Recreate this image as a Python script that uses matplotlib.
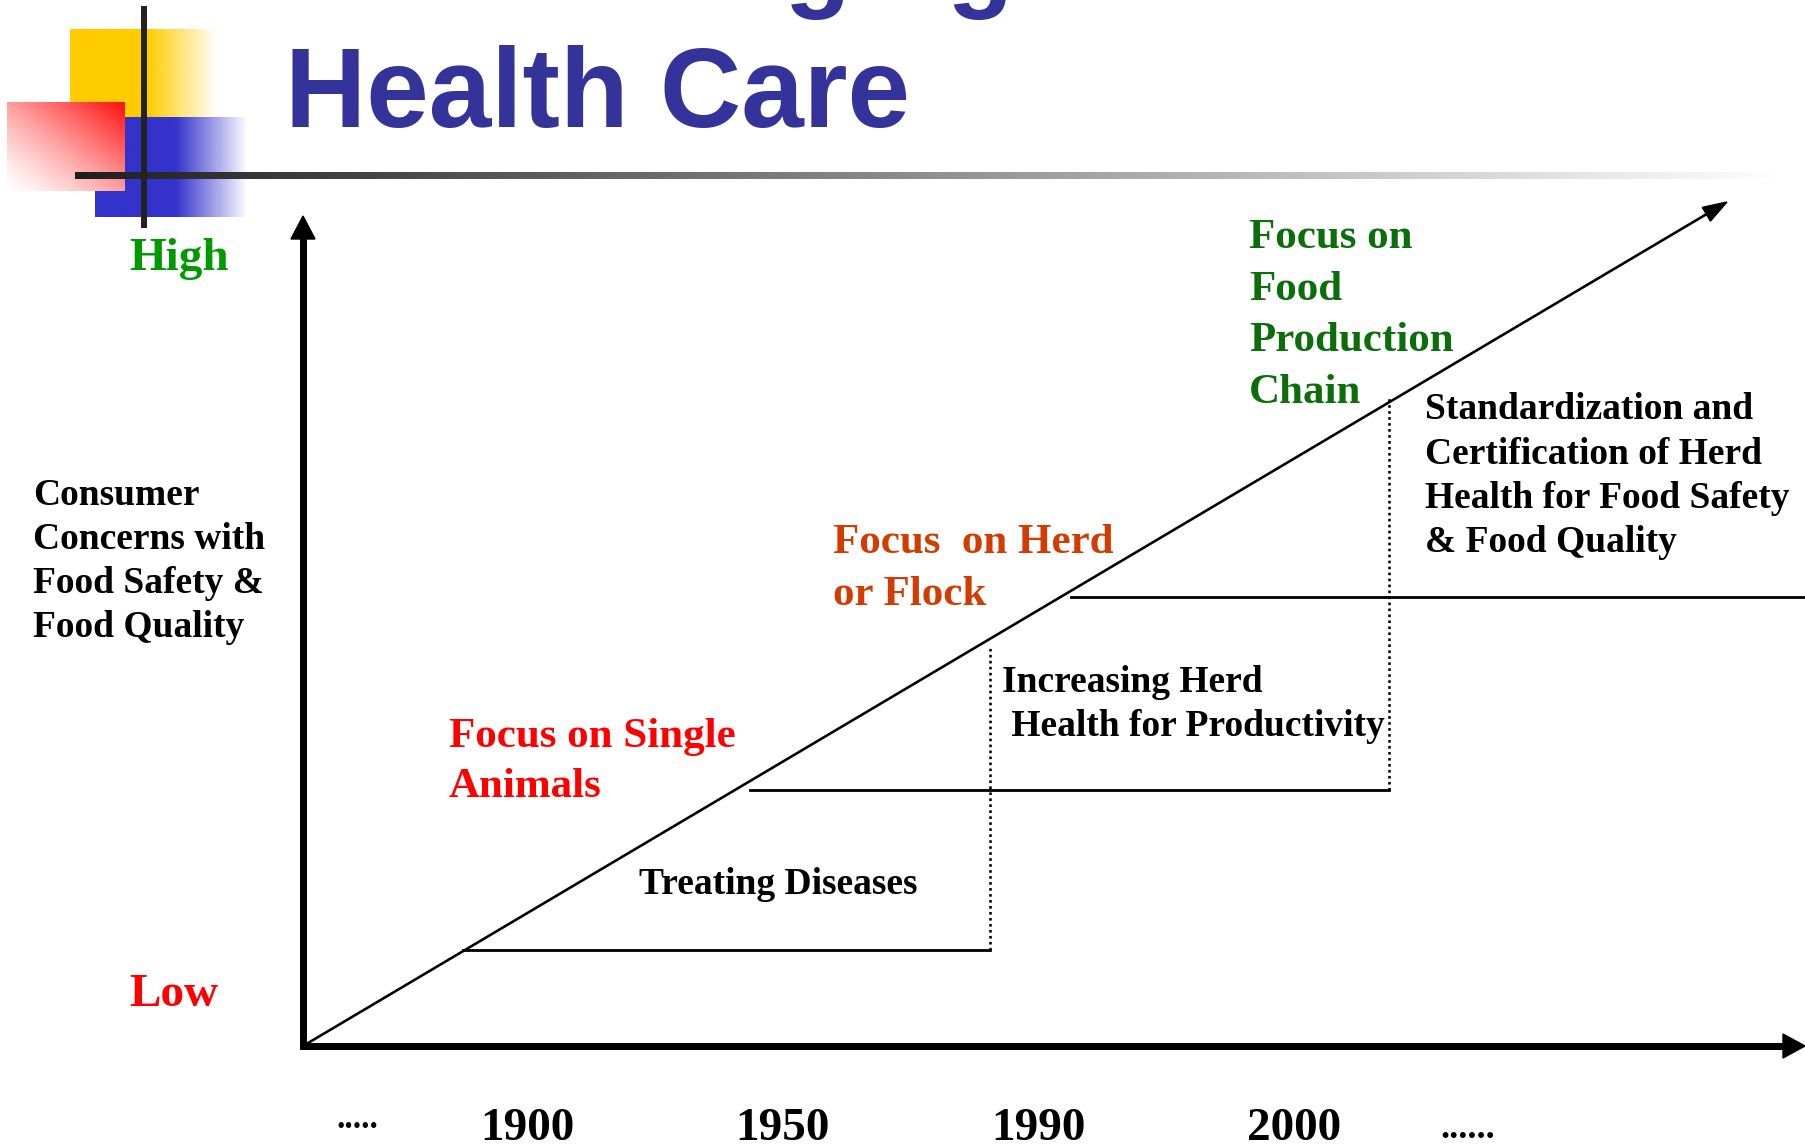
import matplotlib.pyplot as plt
import numpy as np

# slide content (coordinates are slide pixels, y grows downwards)
title = "Health Care"
title_above = "The Changing"          # only its descenders show at the top edge
y_axis_label = ["Consumer", "Concerns with", "Food Safety &", "Food Quality"]
level_high = "High"
level_low = "Low"

years = ["1900", "1950", "1990", "2000"]
focus_labels = [
    ["Focus on Single", "Animals"],
    ["Focus  on Herd", "or Flock"],
    ["Focus on", "Food", "Production", "Chain"],
]
phase_labels = [
    ["Treating Diseases"],
    ["Increasing Herd", " Health for Productivity"],
    ["Standardization and", "Certification of Herd", "Health for Food Safety", "& Food Quality"],
]

# stair steps under the diagonal
step_level = [950, 790, 597]
step_start = [463, 750, 1071]
step_end = [990, 1389, 1805]
riser_x = [990, 1389]
riser_top = [647, 397]

origin = (303, 1046)
trend_tip = (1727, 202)

W, H = 1805, 1148
fig = plt.figure(figsize=(W / 100, H / 100), dpi=100)
ax = fig.add_axes([0, 0, 1, 1])
ax.set_xlim(0, W)
ax.set_ylim(H, 0)
ax.axis("off")


def px(v):
    return v * 0.72


def grad_img(x0, x1, y0, y1, rgba):
    ax.imshow(rgba, extent=(x0, x1, y1, y0), origin="upper", aspect="auto",
              interpolation="bilinear", zorder=1)


# ---- top-left decoration ----
n = 200
u = np.linspace(0, 1, n)
yel = np.ones((2, n, 4))
yel[..., :3] = np.array([1.0, 0.8, 0.0])
yel[..., 3] = np.clip(1 - (u * (218 - 70) - (148 - 70)) / 70, 0, 1)
grad_img(70, 218, 29, 117, yel)

blu = np.ones((2, n, 4))
blu[..., :3] = np.array([0.2, 0.2, 0.8])
blu[..., 3] = np.clip(1 - (u * (248 - 95) - (176 - 95)) / 72, 0, 1)
grad_img(95, 248, 117, 217, blu)

uu, vv = np.meshgrid(u, u)
a = np.clip((uu + (1 - vv)) / 2, 0, 1) ** 1.3
red = np.ones((n, n, 4))
red[..., 0] = 1.0
red[..., 1] = 1 - a * 0.95
red[..., 2] = 1 - a * 0.95
grad_img(7, 125, 102, 191, red)

g = np.linspace(0.12, 1.0, 400)
bar = np.ones((2, 400, 4))
bar[..., 0] = g
bar[..., 1] = g
bar[..., 2] = g
grad_img(75, 1780, 172, 179, bar)
ax.plot([144, 144], [6, 228], color="#222222", lw=px(6), solid_capstyle="butt", zorder=2)

ax.text(285, 127, title, fontsize=81, color="#333399", family="Liberation Sans",
        fontweight="bold", va="baseline", ha="left")
ax.text(290, -2, title_above, fontsize=78, color="#333399", family="Liberation Sans",
        fontweight="bold", va="baseline", ha="left")

# ---- axes arrows ----
ox, oy = origin
ax.plot([ox, ox], [oy + 3, 236], color="black", lw=px(7), solid_capstyle="butt")
ax.fill([ox - 12, ox + 12, ox], [239, 239, 216], color="black")
ax.plot([ox - 3, 1785], [oy, oy], color="black", lw=px(7), solid_capstyle="butt")
ax.fill([1783, 1783, 1805], [oy - 12, oy + 12, oy], color="black")

# diagonal trend
tx, ty = trend_tip
d = np.array([tx - ox, ty - oy], dtype=float)
d /= np.hypot(*d)
nrm = np.array([-d[1], d[0]])
base = np.array(trend_tip) - d * 24
ax.plot([ox, base[0]], [oy, base[1]], color="black", lw=px(2.6))
head = np.array([trend_tip, base + nrm * 8, base - nrm * 8])
ax.fill(head[:, 0], head[:, 1], color="black")

# stairs
for lvl, xs, xe in zip(step_level, step_start, step_end):
    ax.plot([xs, xe], [lvl, lvl], color="black", lw=px(2.8))
for rx, rt, lvl in zip(riser_x, riser_top, step_level):
    ax.plot([rx, rx], [lvl, rt], color="black", lw=px(2.6), linestyle=(0, (1, 1.3)))

serif = "Liberation Serif"


def lines(x, y0, step, texts, size, color, ha="left"):
    for i, t in enumerate(texts):
        ax.text(x, y0 + i * step, t, fontsize=size, color=color, family=serif,
                fontweight="bold", va="baseline", ha=ha)


lines(129, 270, 0, [level_high], 34, "#009900")
lines(129, 1006, 0, [level_low], 34, "#ff0000")
lines(33, 505, 44, y_axis_label, 27, "black")

focus_pos = [(449, 747), (833, 553), (1249, 248)]
focus_col = ["#ff0000", "#d23c00", "#0b6e0b"]
focus_step = [50, 52, 51.7]
for (x, y), txt, c, s in zip(focus_pos, focus_labels, focus_col, focus_step):
    lines(x, y, s, txt, 31, c)

phase_pos = [(639, 894), (1002, 692), (1425, 419)]
for (x, y), txt in zip(phase_pos, phase_labels):
    lines(x, y, 44.5, txt, 27, "black")

for i, yr in enumerate(years):
    ax.text(527 + i * 255.7, 1140, yr, fontsize=34, family=serif, fontweight="bold",
            ha="center", va="baseline")
ax.text(337, 1128, ".....", fontsize=24, family=serif, fontweight="bold", va="baseline")
ax.text(1440, 1138, "......", fontsize=26, family=serif, fontweight="bold", va="baseline")

ax.set_xlim(0, W)
ax.set_ylim(H, 0)
fig.savefig("out.png", dpi=100, facecolor="white")
